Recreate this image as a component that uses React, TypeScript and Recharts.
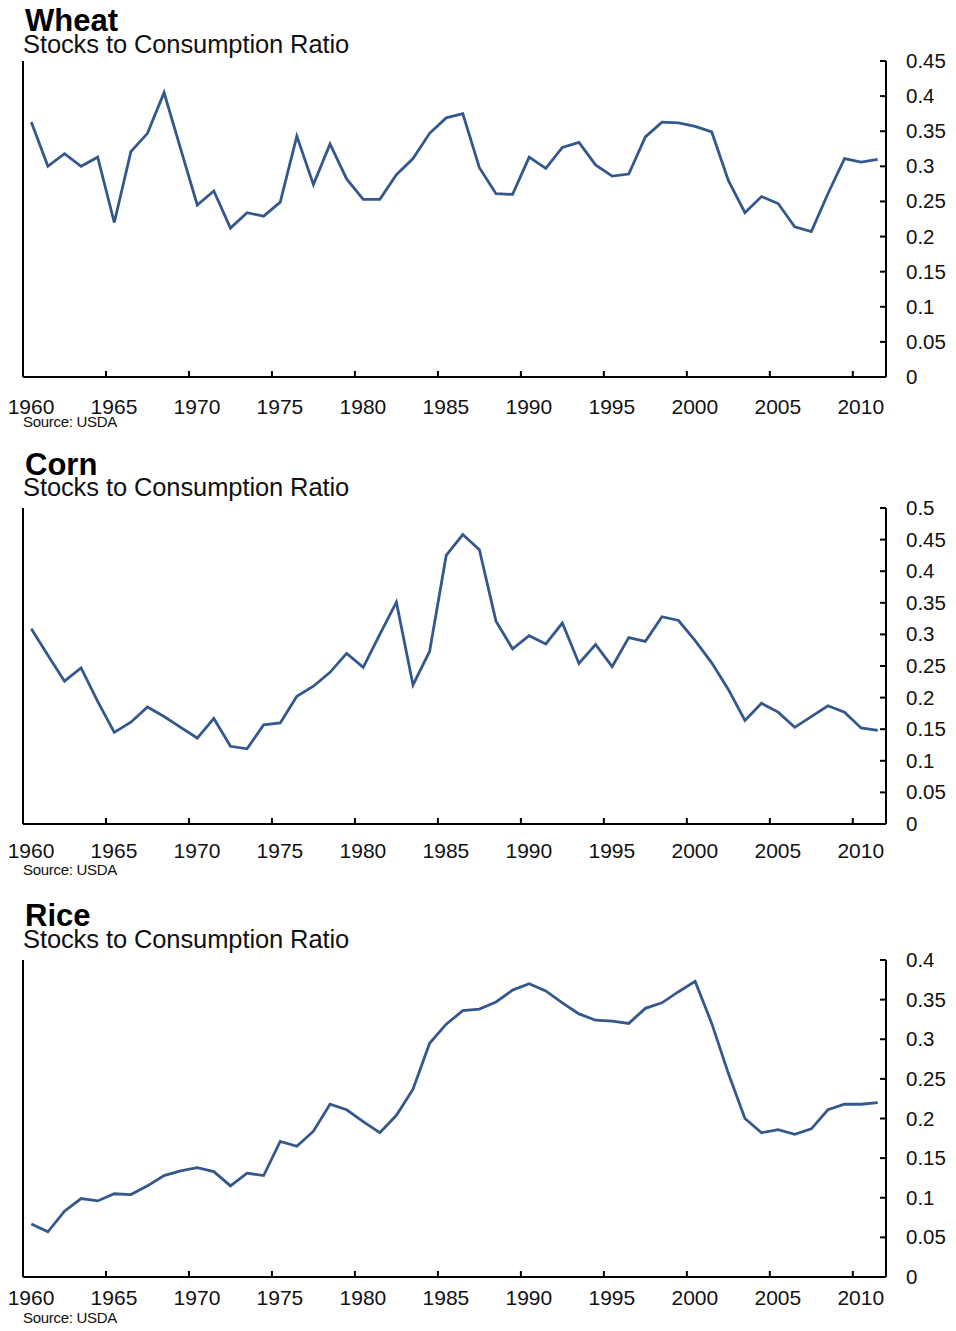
import React from 'react';
import { LineChart, Line, XAxis, YAxis } from 'recharts';

const years: number[] = Array.from({ length: 52 }, (_, i) => 1960 + i);

const wheat: number[] = [
  0.363, 0.300, 0.318, 0.300, 0.313, 0.220, 0.321, 0.347, 0.405, 0.325,
  0.245, 0.265, 0.212, 0.234, 0.229, 0.249, 0.343, 0.274, 0.332, 0.282,
  0.253, 0.253, 0.288, 0.311, 0.347, 0.369, 0.375, 0.298, 0.261, 0.260,
  0.313, 0.297, 0.327, 0.334, 0.302, 0.286, 0.289, 0.342, 0.363, 0.362,
  0.357, 0.349, 0.280, 0.234, 0.257, 0.247, 0.214, 0.207, 0.261, 0.311,
  0.306, 0.310,
];

const corn: number[] = [
  0.309, 0.267, 0.226, 0.247, 0.194, 0.145, 0.161, 0.185, 0.170, 0.153,
  0.136, 0.167, 0.123, 0.119, 0.157, 0.160, 0.202, 0.218, 0.240, 0.270,
  0.248, 0.300, 0.351, 0.220, 0.273, 0.425, 0.458, 0.434, 0.321, 0.277,
  0.298, 0.285, 0.318, 0.254, 0.284, 0.249, 0.295, 0.289, 0.328, 0.322,
  0.290, 0.255, 0.213, 0.164, 0.191, 0.177, 0.153, 0.170, 0.187, 0.177,
  0.152, 0.148,
];

const rice: number[] = [
  0.067, 0.057, 0.083, 0.099, 0.096, 0.105, 0.104, 0.115, 0.128, 0.134,
  0.138, 0.133, 0.115, 0.131, 0.128, 0.171, 0.165, 0.184, 0.218, 0.211,
  0.196, 0.182, 0.204, 0.237, 0.295, 0.319, 0.336, 0.338, 0.347, 0.362,
  0.370, 0.361, 0.346, 0.332, 0.324, 0.323, 0.320, 0.339, 0.346, 0.360,
  0.373, 0.320, 0.257, 0.200, 0.182, 0.186, 0.180, 0.187, 0.211, 0.218,
  0.218, 0.220,
];

const xTicks: number[] = [1960, 1965, 1970, 1975, 1980, 1985, 1990, 1995, 2000, 2005, 2010];
const wheatTicks: number[] = [0, 0.05, 0.1, 0.15, 0.2, 0.25, 0.3, 0.35, 0.4, 0.45];
const cornTicks: number[] = [0, 0.05, 0.1, 0.15, 0.2, 0.25, 0.3, 0.35, 0.4, 0.45, 0.5];
const riceTicks: number[] = [0, 0.05, 0.1, 0.15, 0.2, 0.25, 0.3, 0.35, 0.4];

const titles: string[] = ['Wheat', 'Corn', 'Rice'];
const subtitle = 'Stocks to Consumption Ratio';
const source = 'Source: USDA';

const FONT = '"Liberation Sans", Arial, Helvetica, sans-serif';
const LINE_COLOR = '#34588c';

const fmt = (v: number) => String(Math.round(v * 100) / 100);

const makeXTick = (labelDy: number) => (props: any) => {
  const { x, y, payload } = props;
  return (
    <g>
      <line x1={x} x2={x} y1={y} y2={y - 6} stroke="#000" strokeWidth={2} />
      <text x={x + 8} y={y + labelDy} textAnchor="middle" fontSize={21} fontFamily={FONT} fill="#111">
        {payload.value}
      </text>
    </g>
  );
};

const RightTick = (props: any) => {
  const { x, y, payload } = props;
  return (
    <g>
      <line x1={x} x2={x - 6} y1={y} y2={y} stroke="#000" strokeWidth={2} />
      <text x={x + 20} y={y + 7} textAnchor="start" fontSize={20.5} fontFamily={FONT} fill="#111">
        {fmt(payload.value)}
      </text>
    </g>
  );
};

const LeftTick = (props: any) => {
  const { x, y } = props;
  return <line x1={x} x2={x + 7} y1={y} y2={y} stroke="#000" strokeWidth={2} />;
};

type PanelProps = {
  values: number[];
  ticks: number[];
  top: number;
  height: number;
  marginTop: number;
  xAxisHeight: number;
  labelDy: number;
};

const Panel = ({ values, ticks, top, height, marginTop, xAxisHeight, labelDy }: PanelProps) => {
  const data = years.map((yr, i) => ({ x: yr + 0.5, v: values[i] }));
  const max = ticks[ticks.length - 1];
  return (
    <div style={{ position: 'absolute', left: 0, top, width: 956, height }}>
      <LineChart width={956} height={height} data={data} margin={{ top: marginTop, right: 0, bottom: 0, left: 0 }}>
        <XAxis
          dataKey="x"
          type="number"
          domain={[1960, 2012]}
          ticks={xTicks}
          interval={0}
          height={xAxisHeight}
          tickSize={0}
          tickMargin={0}
          tickLine={false}
          axisLine={{ stroke: '#000', strokeWidth: 2 }}
          tick={makeXTick(labelDy)}
        />
        <YAxis
          yAxisId="left"
          orientation="left"
          width={23}
          domain={[0, max]}
          ticks={ticks}
          interval={0}
          tickSize={0}
          tickMargin={0}
          tickLine={false}
          axisLine={{ stroke: '#000', strokeWidth: 2 }}
          tick={LeftTick}
        />
        <YAxis
          yAxisId="right"
          orientation="right"
          width={70}
          domain={[0, max]}
          ticks={ticks}
          interval={0}
          tickSize={0}
          tickMargin={0}
          tickLine={false}
          axisLine={{ stroke: '#000', strokeWidth: 2 }}
          tick={RightTick}
        />
        <Line
          yAxisId="right"
          type="linear"
          dataKey="v"
          stroke={LINE_COLOR}
          strokeWidth={2.8}
          dot={false}
          isAnimationActive={false}
        />
      </LineChart>
    </div>
  );
};

const textRows = [
  { titleY: 31, subY: 53, srcY: 427 },
  { titleY: 475, subY: 496, srcY: 875 },
  { titleY: 926, subY: 948, srcY: 1323 },
];

export default function App() {
  return (
    <div style={{ position: 'absolute', left: 0, top: 0, width: 956, height: 1331, background: '#fff', overflow: 'hidden' }}>
      <Panel values={wheat} ticks={wheatTicks} top={0} height={440} marginTop={61} xAxisHeight={63} labelDy={37} />
      <Panel values={corn} ticks={cornTicks} top={440} height={445} marginTop={68} xAxisHeight={61} labelDy={34} />
      <Panel values={rice} ticks={riceTicks} top={885} height={446} marginTop={75} xAxisHeight={54} labelDy={28} />
      <svg width={956} height={1331} style={{ position: 'absolute', left: 0, top: 0, pointerEvents: 'none' }}>
        {textRows.map((r, i) => (
          <g key={titles[i]} fontFamily={FONT}>
            <text x={25} y={r.titleY} fontSize={31} fontWeight="bold" fill="#000">
              {titles[i]}
            </text>
            <text x={23} y={r.subY} fontSize={25.5} fill="#111" letterSpacing={-0.1}>
              {subtitle}
            </text>
            <text x={23} y={r.srcY} fontSize={15} fill="#111" letterSpacing={-0.3}>
              {source}
            </text>
          </g>
        ))}
      </svg>
    </div>
  );
}
